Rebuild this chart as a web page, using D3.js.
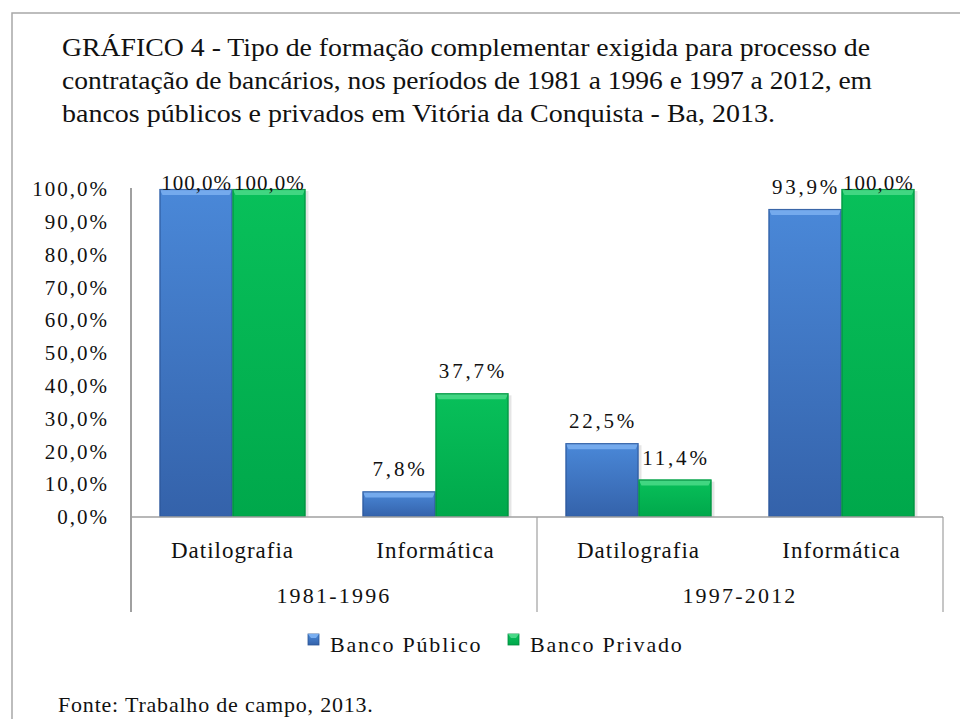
<!DOCTYPE html>
<html><head><meta charset="utf-8">
<script src="https://cdn.jsdelivr.net/npm/d3@7"></script>
<style>body{margin:0;background:#fff}svg{display:block}text{font-family:"Liberation Serif","Times New Roman",serif;fill:#111}</style>
</head><body>
<svg id="c" width="960" height="719"></svg>
<script>
const titleLines = [
  "GRÁFICO 4 - Tipo de formação complementar exigida para processo de",
  "contratação de bancários, nos períodos de 1981 a 1996 e 1997 a 2012, em",
  "bancos públicos  e privados em Vitória da Conquista - Ba, 2013."
];
const periods = ["1981-1996", "1997-2012"];
const categories = ["Datilografia", "Informática", "Datilografia", "Informática"];
const seriesNames = ["Banco Público", "Banco Privado"];
const bancoPublico = [100.0, 7.8, 22.5, 93.9];
const bancoPrivado = [100.0, 37.7, 11.4, 100.0];
const yTicks = [0, 10, 20, 30, 40, 50, 60, 70, 80, 90, 100];
const source = "Fonte: Trabalho de campo, 2013.";

const svg = d3.select("#c");
const fmt = v => d3.format(".1f")(v).replace(".", ",") + "%";

// frame
svg.append("path").attr("d","M12,719 V13 H960").attr("fill","none").attr("stroke","#a8a8a8").attr("stroke-width",1.5);

// title
const tW = [808, 810, 713];
titleLines.forEach((t,i)=>{
  svg.append("text").attr("x",62).attr("y",56+i*33).attr("font-size",25)
    .attr("textLength",tW[i]).attr("lengthAdjust","spacingAndGlyphs").text(t);
});

// defs
const defs = svg.append("defs");
const cols = [
  {id:"gb", top:"#4a88d8", bot:"#3462aa", hi:"#79aef0", edge:"#2c5596"},
  {id:"gg", top:"#08c05a", bot:"#00a84b", hi:"#48d886", edge:"#008a3c"}
];
cols.forEach(c=>{
  const g = defs.append("linearGradient").attr("id",c.id).attr("x1",0).attr("x2",0).attr("y1",0).attr("y2",1);
  g.append("stop").attr("offset","0%").attr("stop-color",c.top);
  g.append("stop").attr("offset","100%").attr("stop-color",c.bot);
});

const keys = categories.map((c,i)=>i);
const x = d3.scaleBand().domain(keys).range([131, 943]).paddingInner(0.281).paddingOuter(0.1405);
const xs = d3.scaleBand().domain([0,1]).range([0, x.bandwidth()]);
const y = d3.scaleLinear().domain([0,100]).range([517, 189]);

// y tick labels
const yAxis = d3.axisLeft(y).tickValues(yTicks).tickFormat(fmt).tickSize(0).tickPadding(22);
const ya = svg.append("g").attr("transform","translate(131,0)").call(yAxis);
ya.select(".domain").remove();
ya.selectAll("text").attr("font-size",21).attr("letter-spacing",2).attr("fill","#222")
  .style("font-family",'"Liberation Serif",serif');

// bars
const data = [];
keys.forEach(k=>{
  [bancoPublico[k], bancoPrivado[k]].forEach((v,s)=>data.push({k,s,v}));
});
const bars = svg.append("g");
data.forEach(d=>{
  const bx = x(d.k)+xs(d.s), bw = xs.bandwidth(), by = y(d.v), bh = y(0)-y(d.v);
  bars.append("rect").attr("x",bx+3).attr("y",by+2).attr("width",bw).attr("height",bh-2).attr("fill","#000").attr("opacity",0.1);
});
data.forEach(d=>{
  const bx = x(d.k)+xs(d.s), bw = xs.bandwidth(), by = y(d.v), bh = y(0)-y(d.v);
  const c = cols[d.s];
  bars.append("rect").attr("x",bx).attr("y",by).attr("width",bw).attr("height",bh).attr("fill",`url(#${c.id})`);
  const hh = Math.min(6, bh/2);
  bars.append("path").attr("d",`M${bx},${by} H${bx+bw} L${bx+bw-3},${by+hh} H${bx+3} Z`).attr("fill",c.hi).attr("opacity",0.9);
  bars.append("rect").attr("x",bx+0.5).attr("y",by+0.5).attr("width",bw-1).attr("height",bh-1)
    .attr("fill","none").attr("stroke",c.edge).attr("stroke-width",1.2).attr("opacity",0.8);
});

// value labels
data.forEach(d=>{
  const wide = d.v >= 99.95;
  svg.append("text").attr("x",x(d.k)+xs(d.s)+xs.bandwidth()/2 + (wide?0.5:1)).attr("y",Math.max(y(d.v)-15, 190))
    .attr("text-anchor","middle").attr("font-size",21).attr("letter-spacing",wide?1.0:2.8).attr("fill","#222").text(fmt(d.v));
});

// axes lines
svg.append("line").attr("x1",131).attr("x2",131).attr("y1",188).attr("y2",612).attr("stroke","#a0a0a0").attr("stroke-width",2);
svg.append("line").attr("x1",131).attr("x2",943).attr("y1",y(0)).attr("y2",y(0)).attr("stroke","#a0a0a0").attr("stroke-width",1.5);
const gx = d3.scaleBand().domain(periods).range([131,943]);
svg.append("line").attr("x1",gx(periods[1])).attr("x2",gx(periods[1])).attr("y1",y(0)).attr("y2",612).attr("stroke","#a0a0a0").attr("stroke-width",1.2);
svg.append("line").attr("x1",943).attr("x2",943).attr("y1",y(0)).attr("y2",612).attr("stroke","#a0a0a0").attr("stroke-width",1.2);

// category labels
keys.forEach(k=>{
  svg.append("text").attr("x",x(k)+x.bandwidth()/2).attr("y",558).attr("text-anchor","middle")
    .attr("font-size",23).attr("letter-spacing",1).text(categories[k]);
});
periods.forEach(p=>{
  svg.append("text").attr("x",gx(p)+gx.bandwidth()/2).attr("y",603).attr("text-anchor","middle")
    .attr("font-size",22).attr("letter-spacing",2.2).text(p);
});

// legend
const leg = [{x:308, t:seriesNames[0]}, {x:508, t:seriesNames[1]}];
leg.forEach((l,i)=>{
  const c = cols[i];
  svg.append("rect").attr("x",l.x).attr("y",634).attr("width",11).attr("height",11).attr("fill",`url(#${c.id})`).attr("stroke",c.edge).attr("stroke-width",0.8);
  svg.append("path").attr("d",`M${l.x},634 H${l.x+11} L${l.x+8},638 H${l.x+3} Z`).attr("fill",c.hi);
  svg.append("text").attr("x",l.x+22).attr("y",652).attr("font-size",22).attr("letter-spacing",1.8).text(l.t);
});

// source
svg.append("text").attr("x",58).attr("y",712).attr("font-size",22).attr("letter-spacing",0.8).text(source);
</script>
</body></html>
